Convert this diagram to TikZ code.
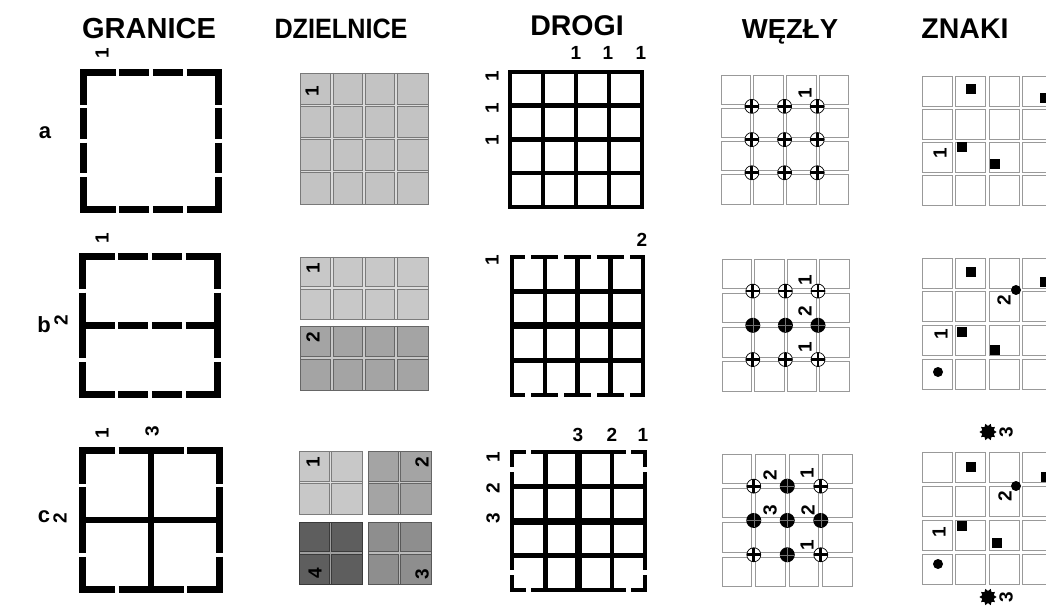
\documentclass[tikz,border=0pt]{standalone}
\usepackage{fontspec}
\setmainfont{Liberation Sans}
\usetikzlibrary{shapes.geometric}
\definecolor{dA}{HTML}{C3C3C3}
\definecolor{dB}{HTML}{C8C8C8}
\definecolor{dC}{HTML}{A4A4A4}
\definecolor{dD}{HTML}{5E5E5E}
\definecolor{dE}{HTML}{8E8E8E}
\tikzset{
 head/.style={font=\fontsize{#1}{#1}\selectfont\bfseries, inner sep=0, anchor=base},
 head/.default=27.5,
 rowlab/.style={font=\fontsize{22}{22}\selectfont\bfseries, inner sep=0},
 dig/.style={font=\fontsize{19}{19}\selectfont\bfseries, inner sep=0},
 rdig/.style={dig, rotate=90},
 gline/.style={line width=7pt, line cap=butt, line join=miter},
 gint/.style={line width=6pt, line cap=butt},
 rline/.style={line width=4.5pt, line cap=rect, line join=miter},
 rint/.style={line width=4.5pt, line cap=butt},
 rthick/.style={line width=7pt, line cap=butt},
 cellst/.style={draw=black!40, line width=0.8pt, fill=white},
 sq/.style={fill=black, minimum size=10.5pt, inner sep=0, draw=none},
 dotst/.style={fill=black, circle, minimum size=10pt, inner sep=0, draw=none},
 starst/.style={star, star points=10, star point ratio=0.7, fill=black, minimum size=12pt, inner sep=0, draw=none},
}
% block of district cells: x0 y0 x1 y1 ncols nrows colour
\newcommand\dblock[7]{%
  \fill[#7] (#1,#2) rectangle (#3,#4);
  \pgfmathtruncatemacro\myNC{#5-1}%
  \pgfmathtruncatemacro\myNR{#6-1}%
  \foreach \i in {1,...,\myNC}{\pgfmathsetmacro\xx{#1+(#3-#1)*\i/#5}%
     \draw[line width=3.2pt,#7!62!black] (\xx,#2) -- (\xx,#4);}
  \foreach \i in {1,...,\myNR}{\pgfmathsetmacro\yy{#2+(#4-#2)*\i/#6}%
     \draw[line width=3.2pt,#7!62!black] (#1,\yy) -- (#3,\yy);}
  \foreach \i in {1,...,\myNC}{\pgfmathsetmacro\xx{#1+(#3-#1)*\i/#5}%
     \draw[line width=1.4pt,#7!60!white] (\xx,#2) -- (\xx,#4);}
  \foreach \i in {1,...,\myNR}{\pgfmathsetmacro\yy{#2+(#4-#2)*\i/#6}%
     \draw[line width=1.4pt,#7!60!white] (#1,\yy) -- (#3,\yy);}
  \draw[#7!62!black, line width=0.8pt] (#1,#2) rectangle (#3,#4);
}
% 4x4 white cells: x0 y0 px py size
\newcommand\wgrid[5]{%
  \foreach \i in {0,...,3}{\foreach \j in {0,...,3}{%
    \draw[cellst] ({#1+\i*#3},{#2+\j*#4}) rectangle ++(#5,#5);}}}
\newcommand\nplus[2]{%
  \draw[fill=white,line width=0.7pt] (#1,#2) circle (7pt);
  \draw[line width=2.8pt] (#1-7,#2)--(#1+7,#2) (#1,#2-7)--(#1,#2+7);}
\newcommand\ndot[2]{%
  \fill (#1,#2) circle (7.5pt);
  \draw[black!55, line width=0.3pt] (#1-7,#2)--(#1+7,#2) (#1,#2-7)--(#1,#2+7);}
\begin{document}
\begin{tikzpicture}[x=1pt,y=-1pt]
\useasboundingbox (0,0) rectangle (1046,609);
\fill[white] (0,0) rectangle (1046,609);

% headers
\node[head=29] (hG) at (149,39) {GRANICE};
\node[head=28, xscale=0.9] (hD) at (341,39) {DZIELNICE};
\node[head=28.5] (hR) at (577,36) {DROGI};
\node[head=27.5] (hW) at (790,39) {WĘZŁY};
\node[head=28.5] (hZ) at (965,39) {ZNAKI};
% row labels
\node[rowlab] (ra) at (45,133) {a};
\node[rowlab] (rb) at (44,325) {b};
\node[rowlab] (rc) at (44,517) {c};

%%%%%%%% GRANICE
% a
\draw[gline] (83.5,105) -- (83.5,72.5) -- (115.5,72.5);
\draw[gline] (186.5,72.5) -- (218.5,72.5) -- (218.5,105);
\draw[gline] (218.5,177) -- (218.5,209.5) -- (186.5,209.5);
\draw[gline] (115.5,209.5) -- (83.5,209.5) -- (83.5,177);
\foreach \yy in {72.5,209.5}{\draw[gline] (119,\yy)--(149.25,\yy) (152.75,\yy)--(183,\yy);}
\foreach \xx in {83.5,218.5}{\draw[gline] (\xx,108.5)--(\xx,139.25) (\xx,142.75)--(\xx,173.5);}
\node[rdig] (ga1) at (102,53) {1};
% b
\draw[gline] (82.5,289.25)--(82.5,256.5)--(114.5,256.5);
\draw[gline] (185.5,256.5)--(217.5,256.5)--(217.5,289.25);
\draw[gline] (217.5,361.75)--(217.5,394.5)--(185.5,394.5);
\draw[gline] (114.5,394.5)--(82.5,394.5)--(82.5,361.75);
\foreach \xx in {82.5,217.5}{\draw[gline] (\xx,292.75)--(\xx,358.25);}
\foreach \yy in {256.5,394.5}{\draw[gline] (118,\yy)--(148.25,\yy) (151.75,\yy)--(182,\yy);}
\draw[gline] (82.5,325.5)--(114.5,325.5) (118,325.5)--(148.25,325.5) (151.75,325.5)--(182,325.5) (185.5,325.5)--(217.5,325.5);
\node[rdig] (gb1) at (102,238) {1};
\node[rdig] (gb2) at (61,320) {2};
% c
\draw[gline] (82.5,483.5)--(82.5,450.5)--(115,450.5);
\draw[gline] (187,450.5)--(219.5,450.5)--(219.5,483.5);
\draw[gline] (219.5,556.5)--(219.5,589.5)--(187,589.5);
\draw[gline] (115,589.5)--(82.5,589.5)--(82.5,556.5);
\foreach \yy in {450.5,589.5}{\draw[gline] (118.5,\yy)--(183.5,\yy);}
\foreach \xx in {82.5,219.5}{\draw[gline] (\xx,487)--(\xx,553);}
\draw[gint] (151,450.5)--(151,589.5);
\draw[gint] (82.5,520)--(219.5,520);
\node[rdig] (gc1) at (102,433) {1};
\node[rdig] (gc3) at (152,431) {3};
\node[rdig] (gc2) at (60,518) {2};

%%%%%%%% DZIELNICE
\dblock{300}{73}{428}{204}{4}{4}{dA}
\node[rdig] (da1) at (312,91) {1};
\dblock{300}{257}{428}{319}{4}{2}{dB}
\dblock{300}{326}{428}{390}{4}{2}{dC}
\node[rdig] (db1) at (313,268) {1};
\node[rdig] (db2) at (313,337) {2};
\dblock{299}{451}{362}{514}{2}{2}{dB}
\dblock{368}{451}{431}{514}{2}{2}{dC}
\dblock{299}{522}{362}{584}{2}{2}{dD}
\dblock{368}{522}{431}{584}{2}{2}{dE}
\node[rdig] (dc1) at (313,462) {1};
\node[rdig] (dc2) at (422,462) {2};
\node[rdig] (dc4) at (315,573) {4};
\node[rdig] (dc3) at (422,574) {3};

%%%%%%%% DROGI
% a
\draw[rline] (510,72) rectangle (642,207);
\foreach \xx in {543,576,609}{\draw[rint] (\xx,72)--(\xx,207);}
\foreach \yy in {105.75,139.5,173.25}{\draw[rint] (510,\yy)--(642,\yy);}
\node[dig] (ra1) at (576,53) {1};
\node[dig] (ra2) at (608,53) {1};
\node[dig] (ra3) at (641,53) {1};
\node[rdig] (ra4) at (492,76) {1};
\node[rdig] (ra5) at (492,108) {1};
\node[rdig] (ra6) at (492,140) {1};
% b
\draw[rline] (512,257)--(512,395);
\draw[rline] (643,257)--(643,395);
\foreach \yy in {257,395}{\draw[rline] (512,\yy)--(523.15,\yy) (533.65,\yy)--(555.85,\yy) (566.35,\yy)--(588.65,\yy) (599.15,\yy)--(621.35,\yy) (631.85,\yy)--(643,\yy);}
\foreach \xx in {544.75,577.5,610.25}{\draw[rint] (\xx,257)--(\xx,395);}
\foreach \yy in {291.5,360.5}{\draw[rint] (512,\yy)--(643,\yy);}
\draw[rthick] (512,326)--(643,326);
\node[rdig] (rb1) at (492,260) {1};
\node[dig] (rb2) at (642,240) {2};
% c
\foreach \yy in {452,590}{\draw[rline] (512,\yy)--(523.85,\yy) (533.35,\yy)--(623.65,\yy) (633.15,\yy)--(645,\yy);}
\foreach \xx in {512,645}{\draw[rline] (\xx,452)--(\xx,464.5) (\xx,474)--(\xx,568) (\xx,577.5)--(\xx,590);}
\foreach \xx in {545.25,611.75}{\draw[rint] (\xx,452)--(\xx,590);}
\foreach \yy in {486.5,555.5}{\draw[rint] (512,\yy)--(645,\yy);}
\draw[rthick] (578.5,452)--(578.5,590);
\draw[rthick] (512,521)--(645,521);
\node[dig] (rc1) at (578,435) {3};
\node[dig] (rc2) at (612,435) {2};
\node[dig] (rc3) at (643,435) {1};
\node[rdig] (rc4) at (493,457) {1};
\node[rdig] (rc5) at (493,488) {2};
\node[rdig] (rc6) at (493,518) {3};

%%%%%%%% WEZLY
% a
\wgrid{721}{75}{32.7}{33.2}{29.5}
\foreach \xx in {751.85,784.55,817.25}{\foreach \yy in {106.35,139.55,172.75}{\nplus{\xx}{\yy}}}
\node[rdig] (wa1) at (805,93) {1};
% b
\wgrid{722}{259}{32.6}{34.2}{29.5}
\foreach \xx in {752.8,785.4,818}{\nplus{\xx}{291.1}\ndot{\xx}{325.3}\nplus{\xx}{359.5}}
\node[rdig] (wb1) at (805,280) {1};
\node[rdig] (wb2) at (805,311) {2};
\node[rdig] (wb3) at (805,347) {1};
% c
\wgrid{722}{454}{33.5}{34.3}{29.5}
\nplus{753.75}{486.15}\ndot{787.25}{486.15}\nplus{820.75}{486.15}
\ndot{753.75}{520.45}\ndot{787.25}{520.45}\ndot{820.75}{520.45}
\nplus{753.75}{554.75}\ndot{787.25}{554.75}\nplus{820.75}{554.75}
\node[rdig] (wc1) at (770,475) {2};
\node[rdig] (wc2) at (807,473) {1};
\node[rdig] (wc3) at (770,510) {3};
\node[rdig] (wc4) at (808,510) {2};
\node[rdig] (wc5) at (807,545) {1};

%%%%%%%% ZNAKI
\begin{scope}
\clip (0,0) rectangle (1046,609);
% a
\wgrid{922}{76}{33.6}{33}{30}
\node[sq] (za1) at (971,89) {};
\node[sq] (za2) at (1045,98) {};
\node[sq] (za3) at (962,147) {};
\node[sq] (za4) at (995,164) {};
\node[rdig] (za5) at (940,153) {1};
% b
\wgrid{922}{258}{33.6}{33.8}{30}
\node[sq] (zb1) at (971,272) {};
\node[sq] (zb2) at (1045,282) {};
\node[sq] (zb3) at (962,332) {};
\node[sq] (zb4) at (995,350) {};
\node[dotst] (zb5) at (1016,290) {};
\node[dotst] (zb6) at (938,372) {};
\node[rdig] (zb7) at (1004,300) {2};
\node[rdig] (zb8) at (941,334) {1};
% c
\wgrid{922}{452}{33.6}{34}{30}
\node[starst] (zc1) at (988,432) {};
\node[rdig] (zc2) at (1006,432) {3};
\node[sq] (zc3) at (971,467) {};
\node[sq] (zc4) at (1046,477) {};
\node[sq] (zc5) at (962,526) {};
\node[sq] (zc6) at (997,543) {};
\node[dotst] (zc7) at (1016,486) {};
\node[rdig] (zc8) at (1005,496) {2};
\node[rdig] (zc9) at (939,532) {1};
\node[dotst] (zc10) at (938,564) {};
\node[starst] (zc11) at (988,597) {};
\node[rdig] (zc12) at (1006,597) {3};
\end{scope}
\end{tikzpicture}
\end{document}
